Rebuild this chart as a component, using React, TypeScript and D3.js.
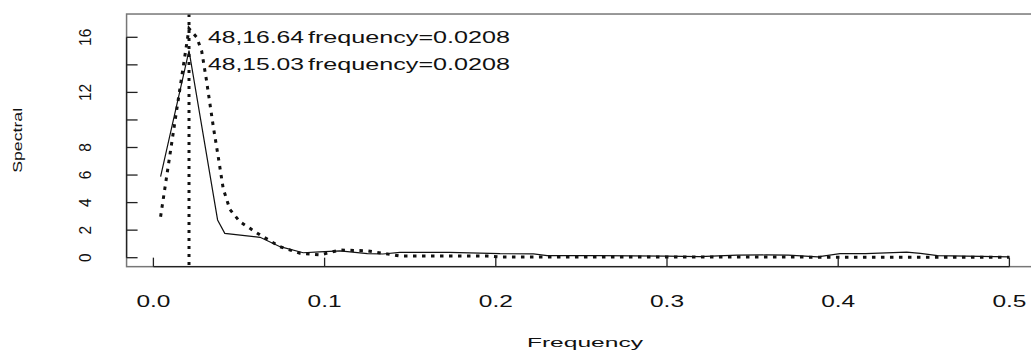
import React from "react";
import * as d3 from "d3";

// ---- data ----
const solidFreq = [0.0042, 0.0208, 0.0375, 0.0417, 0.0623, 0.074, 0.0875, 0.097, 0.109, 0.125, 0.134, 0.144, 0.173, 0.2025, 0.222, 0.23, 0.26, 0.3, 0.319, 0.341, 0.358, 0.371, 0.388, 0.401, 0.416, 0.44, 0.448, 0.458, 0.5];
const solidSpec = [5.88, 15.03, 2.74, 1.77, 1.48, 0.8, 0.36, 0.42, 0.5, 0.3, 0.27, 0.39, 0.39, 0.29, 0.28, 0.15, 0.15, 0.12, 0.08, 0.18, 0.2, 0.18, 0.06, 0.3, 0.3, 0.4, 0.32, 0.15, 0.06];

const dottedFreq = [0.0042, 0.0208, 0.0253, 0.0282, 0.0311, 0.035, 0.0379, 0.0408, 0.0447, 0.0506, 0.0564, 0.0623, 0.074, 0.0856, 0.0973, 0.109, 0.1248, 0.1341, 0.144, 0.195, 0.2025, 0.3, 0.4, 0.5];
const dottedSpec = [2.98, 16.64, 16.0, 15.0, 12.8, 9.5, 7.3, 5.0, 3.5, 2.6, 2.13, 1.65, 0.8, 0.32, 0.2, 0.56, 0.5, 0.32, 0.12, 0.12, 0.05, 0.05, 0.04, 0.03];

const peakFreq = 0.0208;
const xTicks = [0, 0.1, 0.2, 0.3, 0.4, 0.5];
const xTickLabels = ["0.0", "0.1", "0.2", "0.3", "0.4", "0.5"];
const yTicks = [0, 2, 4, 6, 8, 10, 12, 14, 16];
const yLabelTicks = [0, 2, 4, 6, 8, 12, 16];
const annotations = [
  { a: "48,16.64", b: "frequency=0.0208", yv: 16 },
  { a: "48,15.03", b: "frequency=0.0208", yv: 14 },
];
const xTitle = "Frequency";
const yTitle = "Spectral";

const W = 1031;
const H = 354;
const FONT = "'Liberation Sans', Arial, Helvetica, sans-serif";

export default function App() {
  const x = d3.scaleLinear().domain([0, 0.5]).range([153.4, 1009.4]);
  const y = d3.scaleLinear().domain([0, 16]).range([257.7, 37.3]);
  const left = x(-0.01567);
  const right = x(0.51983);
  const top = y(17.69);
  const bottom = y(-0.65);

  const solid = d3
    .line<number>()
    .x((_, i) => x(solidFreq[i]))
    .y((d) => y(d));
  const dotted = d3
    .line<number>()
    .x((_, i) => x(dottedFreq[i]))
    .y((d) => y(d));

  return (
    <svg
      width={W}
      height={H}
      style={{ position: "absolute", left: 0, top: 0, background: "#fff" }}
      fontFamily={FONT}
    >
      <defs>
        <clipPath id="plot">
          <rect x={left} y={top} width={right - left} height={bottom - top} />
        </clipPath>
      </defs>
      <rect x={0} y={0} width={W} height={H} fill="#fff" />
      <g clipPath="url(#plot)">
        <path d={solid(solidSpec) || ""} fill="none" stroke="#111" strokeWidth={1.2} />
        <path
          d={dotted(dottedSpec) || ""}
          fill="none"
          stroke="#111"
          strokeWidth={3}
          strokeDasharray="3.5,5.5"
        />
        <line
          x1={x(peakFreq)}
          x2={x(peakFreq)}
          y1={top}
          y2={bottom}
          stroke="#111"
          strokeWidth={3}
          strokeDasharray="3,5"
        />
      </g>
      {/* box */}
      <rect x={left} y={top} width={right - left} height={bottom - top} fill="none" stroke="#777" strokeWidth={1.5} />
      {/* x axis */}
      <line x1={x(0)} x2={x(0.5)} y1={bottom} y2={bottom} stroke="#222" strokeWidth={1.3} />
      {xTicks.map((t, i) => (
        <g key={"xt" + i}>
          <line x1={x(t)} x2={x(t)} y1={bottom} y2={bottom - 9} stroke="#222" strokeWidth={1.3} />
          <text
            x={x(t) - 17}
            y={307}
            fontSize={16.5}
            fill="#111"
            textLength={34}
            lengthAdjust="spacingAndGlyphs"
          >
            {xTickLabels[i]}
          </text>
        </g>
      ))}
      {/* y axis */}
      <line x1={left} x2={left} y1={y(0)} y2={y(16)} stroke="#222" strokeWidth={1.3} />
      {yTicks.map((t, i) => (
        <line key={"yt" + i} x1={left} x2={left + 11} y1={y(t)} y2={y(t)} stroke="#222" strokeWidth={1.3} />
      ))}
      {yLabelTicks.map((t, i) => {
        const s = String(t);
        const len = s.length * 8.6;
        return (
          <text
            key={"yl" + i}
            transform={`translate(91,${y(t) + len / 2}) rotate(-90)`}
            fontSize={16.5}
            fill="#111"
            textLength={len}
            lengthAdjust="spacingAndGlyphs"
          >
            {s}
          </text>
        );
      })}
      {/* titles */}
      <text
        transform={`translate(22,${(top + bottom) / 2 + 32.5}) rotate(-90)`}
        fontSize={13}
        fill="#111"
        textLength={65}
        lengthAdjust="spacingAndGlyphs"
      >
        {yTitle}
      </text>
      <text
        x={(left + right) / 2 - 58}
        y={347}
        fontSize={13}
        fill="#111"
        textLength={116}
        lengthAdjust="spacingAndGlyphs"
      >
        {xTitle}
      </text>
      {/* annotations */}
      {annotations.map((a, i) => (
        <g key={"an" + i}>
          <text
            x={208}
            y={y(a.yv) + 5.5}
            fontSize={16.7}
            fill="#111"
            textLength={96}
            lengthAdjust="spacingAndGlyphs"
          >
            {a.a}
          </text>
          <text
            x={308}
            y={y(a.yv) + 5.5}
            fontSize={16.7}
            fill="#111"
            textLength={202}
            lengthAdjust="spacingAndGlyphs"
          >
            {a.b}
          </text>
        </g>
      ))}
    </svg>
  );
}
